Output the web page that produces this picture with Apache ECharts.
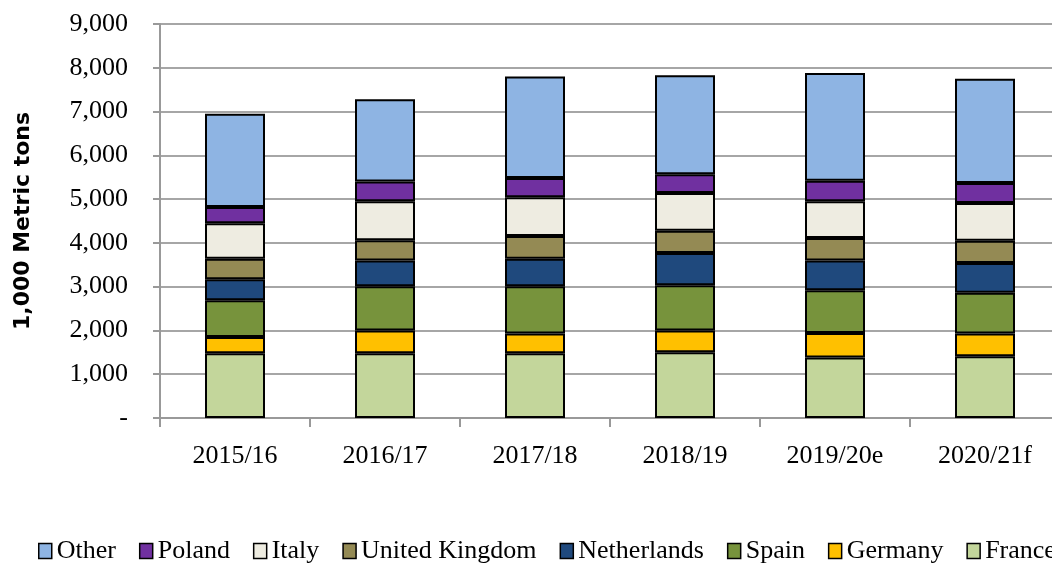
<!DOCTYPE html>
<html>
<head>
<meta charset="utf-8">
<script src="https://cdn.jsdelivr.net/npm/echarts@6/dist/echarts.min.js"></script>
<style>
  html, body { margin: 0; padding: 0; background: #fff; overflow: hidden; }
  #chart { width: 1064px; height: 563px; }
</style>
</head>
<body>
<div id="chart"></div>
<script>
// marketing years
const years = ['2015/16', '2016/17', '2017/18', '2018/19', '2019/20e', '2020/21f']

// 1,000 metric tons, per country
const france      = [1480, 1480, 1480, 1500, 1380, 1410]
const germany     = [370, 520, 450, 500, 560, 520]
const spain       = [840, 1010, 1080, 1030, 980, 930]
const netherlands = [480, 590, 630, 740, 680, 680]
const uk          = [470, 460, 520, 510, 510, 510]
const italy       = [810, 890, 880, 860, 840, 860]
const poland      = [370, 450, 440, 430, 470, 460]
const other       = [2130, 1880, 2320, 2260, 2460, 2380]

const legendOrder = ['Other', 'Poland', 'Italy', 'United Kingdom', 'Netherlands', 'Spain', 'Germany', 'France']

// bottom -> top
const stack = [
  ['France', france, '#C3D69B'],
  ['Germany', germany, '#FFC000'],
  ['Spain', spain, '#77933C'],
  ['Netherlands', netherlands, '#1F497D'],
  ['United Kingdom', uk, '#948A54'],
  ['Italy', italy, '#EEECE1'],
  ['Poland', poland, '#7030A0'],
  ['Other', other, '#8EB4E3']
]

const serif = '"Liberation Serif", "Times New Roman", serif'

let myCharts = echarts.init(document.getElementById('chart'))
let option = {
  animation: false,
  grid: {
    left: 160,
    top: 24,
    width: 900,
    height: 394
  },
  legend: {
    data: legendOrder,
    left: 38,
    top: 538,
    padding: 0,
    itemWidth: 13,
    itemHeight: 15,
    itemGap: 23,
    icon: 'rect',
    itemStyle: { borderColor: '#000', borderWidth: 1.5 },
    textStyle: { fontFamily: serif, fontSize: 26, color: '#000' }
  },
  xAxis: {
    type: 'category',
    data: years,
    axisLine: { lineStyle: { color: '#999', width: 2 } },
    axisTick: { show: true, length: 9, lineStyle: { color: '#999', width: 2 } },
    axisLabel: {
      margin: 25,
      fontFamily: serif,
      fontSize: 26,
      color: '#000'
    }
  },
  yAxis: {
    type: 'value',
    min: 0,
    max: 9000,
    interval: 1000,
    name: '1,000 Metric tons',
    nameLocation: 'middle',
    nameGap: 126,
    nameTextStyle: {
      fontFamily: '"DejaVu Sans", sans-serif',
      fontWeight: 'bold',
      fontSize: 22,
      color: '#000'
    },
    axisLine: { show: true, lineStyle: { color: '#999', width: 2 } },
    axisTick: { show: true, length: 7, lineStyle: { color: '#999', width: 2 } },
    splitLine: { lineStyle: { color: '#a6a6a6', width: 2 } },
    axisLabel: {
      margin: 32,
      fontFamily: serif,
      fontSize: 26,
      color: '#000',
      formatter: v => v === 0 ? '-' : v.toLocaleString('en-US')
    }
  },
  series: stack.map(([name, data, color]) => ({
    name: name,
    type: 'bar',
    stack: 'total',
    data: data,
    barWidth: '40%',
    itemStyle: { color: color, borderColor: '#000', borderWidth: 2 }
  }))
}
myCharts.setOption(option)
</script>
</body>
</html>
